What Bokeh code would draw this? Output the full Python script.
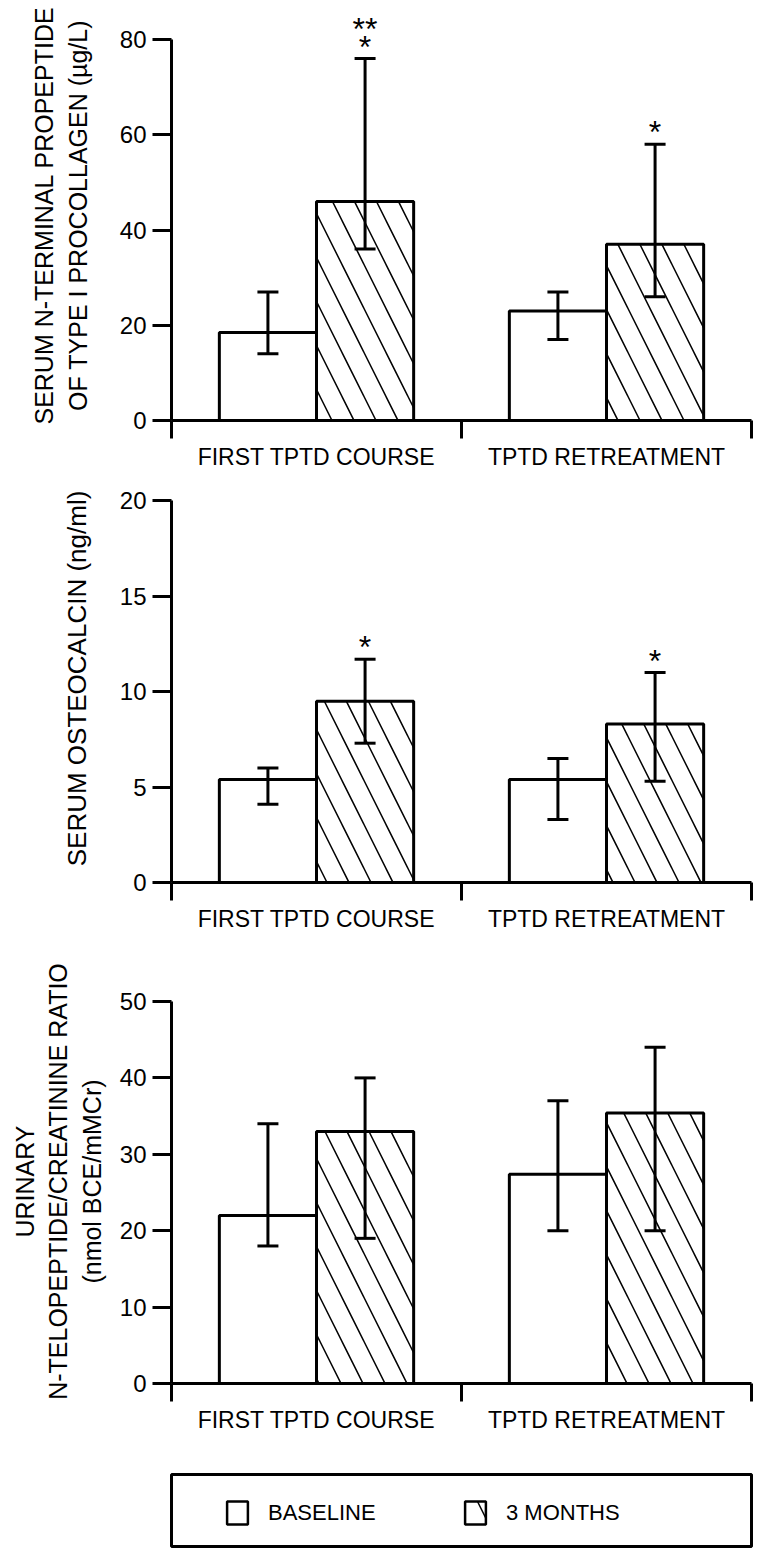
from bokeh.plotting import figure
from bokeh.layouts import column
from bokeh.models import (ColumnDataSource, Range1d, FixedTicker, Whisker, TeeHead,
                          Legend, LegendItem)
from bokeh.core.properties import value
from bokeh.embed import file_html
from bokeh.resources import INLINE

# ---------------- data ----------------
groups = ["FIRST TPTD COURSE", "TPTD RETREATMENT"]
series = ["BASELINE", "3 MONTHS"]

# Serum PINP (µg/L)
pinp_base = [18.5, 23.0]
pinp_base_lo = [14.0, 17.0]
pinp_base_hi = [27.0, 27.0]
pinp_3m = [46.0, 37.0]
pinp_3m_lo = [36.0, 26.0]
pinp_3m_hi = [76.0, 58.0]
pinp_sig = ["*", "*"]
pinp_sig2 = ["**", ""]
pinp_ticks = [0, 20, 40, 60, 80]

# Serum osteocalcin (ng/ml)
oc_base = [5.4, 5.4]
oc_base_lo = [4.1, 3.3]
oc_base_hi = [6.0, 6.5]
oc_3m = [9.5, 8.3]
oc_3m_lo = [7.3, 5.3]
oc_3m_hi = [11.7, 11.0]
oc_sig = ["*", "*"]
oc_ticks = [0, 5, 10, 15, 20]

# Urinary NTX/creatinine ratio (nmol BCE/mMCr)
ntx_base = [22.0, 27.4]
ntx_base_lo = [18.0, 20.0]
ntx_base_hi = [34.0, 37.0]
ntx_3m = [33.0, 35.4]
ntx_3m_lo = [19.0, 20.0]
ntx_3m_hi = [40.0, 44.0]
ntx_ticks = [0, 10, 20, 30, 40, 50]

# ---------------- style ----------------
FONT = "Liberation Sans"
BAR_W = 0.335
W = 759
LEFT = 171
RIGHT = 8
HATCH = dict(hatch_pattern="left_diagonal_line", hatch_scale=44,
             hatch_weight=1.5, hatch_color="black")


def panel(base, base_lo, base_hi, m3, m3_lo, m3_hi, ticks, y_end, label,
          label_size, label_standoff, height, border_top, border_bottom,
          sig=None, sig2=None):
    p = figure(width=W, height=height, x_range=Range1d(0, len(groups)),
               y_range=Range1d(0, y_end), output_backend="svg",
               toolbar_location=None, min_border_left=LEFT, min_border_right=RIGHT,
               min_border_top=border_top, min_border_bottom=border_bottom)
    p.outline_line_color = None
    p.grid.visible = False
    p.background_fill_color = "white"

    xb = [i + 0.5 - BAR_W / 2 for i in range(len(groups))]
    xm = [i + 0.5 + BAR_W / 2 for i in range(len(groups))]
    sb = ColumnDataSource(dict(x=xb, top=base, lo=base_lo, hi=base_hi))
    sm = ColumnDataSource(dict(x=xm, top=m3, lo=m3_lo, hi=m3_hi))
    p.vbar(x="x", top="top", bottom=0, width=BAR_W, source=sb,
           fill_color="white", line_color="black", line_width=3)
    p.vbar(x="x", top="top", bottom=0, width=BAR_W, source=sm,
           fill_color="white", line_color="black", line_width=3, **HATCH)
    for s in (sb, sm):
        w = Whisker(source=s, base="x", lower="lo", upper="hi",
                    line_width=3, line_color="black",
                    upper_head=TeeHead(size=21, line_width=3, line_color="black"),
                    lower_head=TeeHead(size=21, line_width=3, line_color="black"),
                    level="annotation")
        p.add_layout(w)

    if sig is not None:
        ss = ColumnDataSource(dict(x=xm, y=m3_hi, t=sig))
        p.text(x="x", y="y", text="t", source=ss, text_align="center",
               text_baseline="middle", y_offset=-12, text_font=value(FONT),
               text_font_size="32px", text_color="black")
    if sig2 is not None:
        ss2 = ColumnDataSource(dict(x=xm, y=m3_hi, t=sig2))
        p.text(x="x", y="y", text="t", source=ss2, text_align="center",
               text_baseline="middle", y_offset=-30, text_font=value(FONT),
               text_font_size="32px", text_color="black")

    xa = p.xaxis[0]
    xa.ticker = FixedTicker(ticks=[i + 0.5 for i in range(len(groups))],
                            minor_ticks=list(range(len(groups) + 1)))
    xa.major_label_overrides = {i + 0.5: g for i, g in enumerate(groups)}
    xa.major_tick_in = 0
    xa.major_tick_out = 0
    xa.minor_tick_in = 0
    xa.minor_tick_out = 18
    xa.minor_tick_line_width = 3
    xa.minor_tick_line_color = "black"
    xa.axis_line_width = 3
    xa.axis_line_color = "black"
    xa.major_label_standoff = 5
    xa.major_label_text_font = FONT
    xa.major_label_text_font_size = "23px"
    xa.major_label_text_color = "black"

    ya = p.yaxis[0]
    ya.ticker = FixedTicker(ticks=ticks, minor_ticks=[])
    ya.bounds = (ticks[0], ticks[-1])
    ya.major_tick_in = 0
    ya.major_tick_out = 19
    ya.major_tick_line_width = 3
    ya.major_tick_line_color = "black"
    ya.minor_tick_out = 0
    ya.minor_tick_in = 0
    ya.axis_line_width = 3
    ya.axis_line_color = "black"
    ya.major_label_standoff = 6
    ya.major_label_text_font = FONT
    ya.major_label_text_font_size = "24px"
    ya.major_label_text_color = "black"
    ya.axis_label = label
    ya.axis_label_text_font = FONT
    ya.axis_label_text_font_size = label_size
    ya.axis_label_text_font_style = "normal"
    ya.axis_label_text_color = "black"
    ya.axis_label_standoff = label_standoff
    return p, sb, sm


p1, _, _ = panel(pinp_base, pinp_base_lo, pinp_base_hi, pinp_3m, pinp_3m_lo,
                 pinp_3m_hi, pinp_ticks, 86.1,
                 "SERUM N-TERMINAL PROPEPTIDE\nOF TYPE I PROCOLLAGEN (µg/L)",
                 "25px", 25, height=472, border_top=10, border_bottom=52,
                 sig=pinp_sig, sig2=pinp_sig2)
p2, _, _ = panel(oc_base, oc_base_lo, oc_base_hi, oc_3m, oc_3m_lo, oc_3m_hi,
                 oc_ticks, 21.38, "SERUM OSTEOCALCIN (ng/ml)", "26px", 25,
                 height=473, border_top=2, border_bottom=63, sig=oc_sig)
p3, src_b, src_m = panel(ntx_base, ntx_base_lo, ntx_base_hi, ntx_3m, ntx_3m_lo,
                         ntx_3m_hi, ntx_ticks, 52.88,
                         "URINARY\nN-TELOPEPTIDE/CREATININE RATIO\n(nmol BCE/mMCr)",
                         "25px", 11, height=523, border_top=34, border_bottom=85)

# ---------------- legend panel ----------------
pl = figure(width=W, height=80, x_range=Range1d(0, 1), y_range=Range1d(0, 1),
            output_backend="svg", toolbar_location=None,
            x_axis_location=None, y_axis_location=None,
            min_border_left=LEFT, min_border_right=RIGHT, min_border_top=6,
            min_border_bottom=2)
pl.grid.visible = False
pl.outline_line_color = "black"
pl.outline_line_width = 3
rb = pl.vbar(x="x", top="top", width=BAR_W, source=src_b,
             fill_color="white", line_color="black", line_width=2.5, visible=False)
rm = pl.vbar(x="x", top="top", width=BAR_W, source=src_m,
             fill_color="white", line_color="black", line_width=2.5, visible=False,
             hatch_pattern="left_diagonal_line", hatch_scale=52,
             hatch_weight=1.5, hatch_color="black")
legend = Legend(items=[LegendItem(label=series[0], renderers=[rb]),
                       LegendItem(label=series[1], renderers=[rm])],
                orientation="horizontal", location=(53, 19), padding=0, margin=0,
                spacing=5, label_standoff=18, label_width=189,
                glyph_width=26, glyph_height=29,
                border_line_alpha=0, background_fill_alpha=0,
                inactive_fill_alpha=0,
                label_text_font=FONT, label_text_font_size="22px",
                label_text_color="black")
pl.add_layout(legend)

layout = column(p1, p2, p3, pl, spacing=0)
open("out.html", "w").write(file_html(layout, INLINE))
